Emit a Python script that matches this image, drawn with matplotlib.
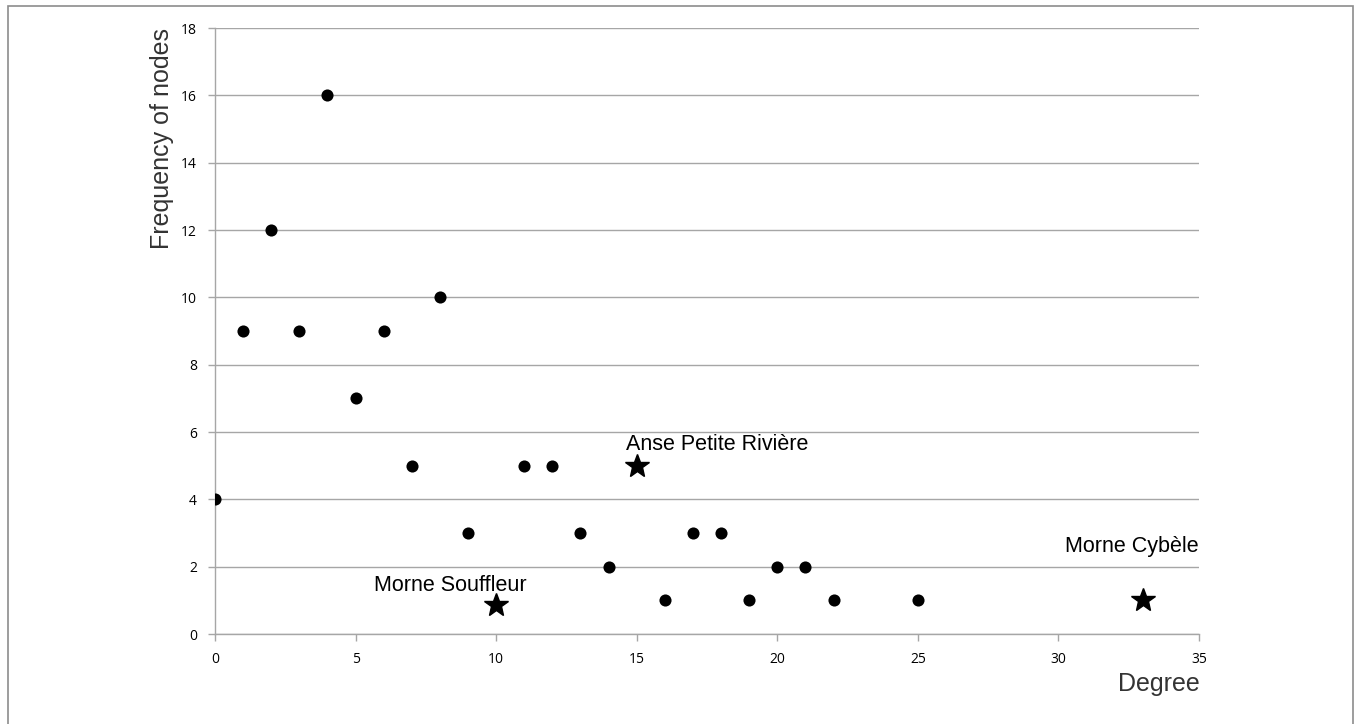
import matplotlib.pyplot as plt
from matplotlib.patches import Rectangle

# degree distribution (dots) and the three named sites (stars)
degree = [0, 1, 2, 3, 4, 5, 6, 7, 8, 9, 11, 12, 13, 14, 16, 17, 18, 19, 20, 21, 22, 25]
freq = [4, 9, 12, 9, 16, 7, 9, 5, 10, 3, 5, 5, 3, 2, 1, 3, 3, 1, 2, 2, 1, 1]

site_names = ['Morne Souffleur', 'Anse Petite Rivière', 'Morne Cybèle']
site_degree = [10, 15, 33]
site_freq = [0.87, 5, 1]

xticks = [0, 5, 10, 15, 20, 25, 30, 35]
yticks = [0, 2, 4, 6, 8, 10, 12, 14, 16, 18]

W, H = 1359, 724
fig = plt.figure(figsize=(W / 100, H / 100), dpi=100)
ax = fig.add_axes([215 / W, 1 - 634 / H, (1199 - 215) / W, (634 - 28) / H])

grey = '#a6a6a6'
ax.scatter(degree, freq, s=76, color='black', zorder=3, linewidths=0)
ax.plot(site_degree, site_freq, linestyle='none', marker='*', markersize=18,
        color='black', zorder=3)

# label offsets (points) relative to each star, ha
lab_style = [((-33, 10), 'center'), ((-8, 11), 'left'), ((40, 35), 'right')]
for name, x, y, (off, ha) in zip(site_names, site_degree, site_freq, lab_style):
    ax.annotate(name, (x, y), xytext=off, textcoords='offset points',
                ha=ha, va='baseline', fontsize=15.5, family='Liberation Sans', color='black')

ax.set_xlim(0, 35)
ax.set_ylim(0, 18)
ax.set_xticks(xticks)
ax.set_yticks(yticks)
ax.yaxis.grid(True, color=grey, linewidth=1)
ax.set_axisbelow(True)
for s in ['top', 'right']:
    ax.spines[s].set_visible(False)
for s in ['left', 'bottom']:
    ax.spines[s].set_color(grey)
    ax.spines[s].set_linewidth(1)
ax.tick_params(axis='both', color=grey, length=5, width=1, labelsize=10,
               labelcolor='black')
ax.tick_params(axis='y', pad=8)
ax.tick_params(axis='x', pad=8)
for lbl in ax.get_xticklabels() + ax.get_yticklabels():
    lbl.set_family('Open Sans')

# axis titles placed like the original (top of y axis, right end of x axis)
fig.text(162 / W, 1 - 28 / H, 'Frequency of nodes', rotation=90, ha='center', va='top',
         fontsize=18, family='Liberation Sans', color='#333333')
fig.text(1200 / W, 1 - 684 / H, 'Degree', ha='right', va='center',
         fontsize=18, family='Liberation Sans', color='#333333')

# outer frame
fig.patches.append(Rectangle((8 / W, -0.05), (1353 - 8) / W, 1.05 - 6 / H,
                             transform=fig.transFigure, fill=False,
                             edgecolor='#8c8c8c', linewidth=1.2))

fig.savefig('out.png', dpi=100)
